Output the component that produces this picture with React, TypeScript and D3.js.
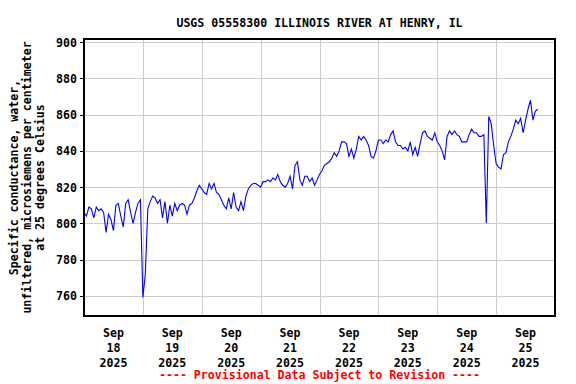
import * as d3 from 'd3';

const title = 'USGS 05558300 ILLINOIS RIVER AT HENRY, IL';
const yLabelLines = [
  'Specific conductance, water,',
  'unfiltered, microsiemens per centimeter',
  'at 25 degrees Celsius',
];
const footer = '---- Provisional Data Subject to Revision ----';
const yTicks = [760, 780, 800, 820, 840, 860, 880, 900];
const dayLabels = ['18', '19', '20', '21', '22', '23', '24', '25'];

// hourly readings, starting Sep 18 00:00
const sep18 = [806, 804, 809, 808, 803, 809, 807, 808, 806, 795, 805, 802, 796, 810, 811, 804, 798, 811, 813, 806, 800, 806, 811, 813];
const sep19 = [759, 772, 808, 812, 815, 814, 811, 813, 803, 812, 800, 810, 804, 811, 807, 810, 811, 810, 805, 810, 811, 814, 818, 821];
const sep20 = [819, 817, 816, 822, 819, 822, 817, 816, 813, 810, 808, 814, 808, 817, 809, 807, 812, 807, 815, 819, 821, 822, 822, 821];
const sep21 = [820, 823, 823, 824, 823, 825, 824, 827, 823, 821, 820, 822, 826, 819, 832, 834, 824, 821, 826, 826, 823, 825, 821, 824];
const sep22 = [827, 829, 832, 833, 834, 836, 839, 837, 840, 845, 845, 844, 837, 841, 836, 841, 848, 846, 848, 846, 843, 837, 836, 840];
const sep23 = [846, 846, 844, 846, 845, 849, 851, 845, 843, 843, 841, 842, 840, 845, 838, 842, 837, 844, 850, 851, 848, 847, 846, 850];
const sep24 = [845, 843, 840, 835, 848, 851, 849, 851, 849, 848, 845, 845, 845, 849, 852, 850, 850, 848, 848, 849, 800, 859, 855, 843];
const sep25 = [833, 831, 830, 838, 839, 845, 848, 852, 857, 855, 858, 850, 857, 863, 868, 857, 862, 863];

const startTime = new Date(2025, 8, 18);
const endTime = new Date(2025, 8, 26);

const font = '"DejaVu Sans Mono", monospace';

export default function App() {
  const width = 576;
  const height = 384;
  const margin = { top: 39, right: 21, bottom: 68, left: 84 };

  const x = d3
    .scaleTime()
    .domain([startTime, endTime])
    .range([margin.left, width - margin.right]);
  const y = d3
    .scaleLinear()
    .domain([748.8, 901.8])
    .range([height - margin.bottom, margin.top]);

  const values = [...sep18, ...sep19, ...sep20, ...sep21, ...sep22, ...sep23, ...sep24, ...sep25];
  const data = values.map((v, i) => ({ t: d3.timeHour.offset(startTime, i), v }));

  const line = d3
    .line<{ t: Date; v: number }>()
    .x((d) => x(d.t))
    .y((d) => y(d.v));

  const days = d3.timeDay.range(startTime, endTime);
  const x0 = margin.left;
  const x1 = width - margin.right;
  const y0 = margin.top;
  const y1 = height - margin.bottom;
  const midY = (y0 + y1) / 2;
  const midX = (x0 + x1) / 2;
  const crisp = (v: number) => Math.round(v) + 0.5;

  return (
    <div style={{ position: 'fixed', left: 0, top: 0 }}>
      <svg width={width} height={height} style={{ display: 'block', background: '#fff' }}>
        <text
          x={midX}
          y={26.5}
          textAnchor="middle"
          fontFamily={font}
          fontWeight="bold"
          fontSize={11.6}
        >
          {title}
        </text>

        {/* grid */}
        {yTicks.map((t) => (
          <line key={'gy' + t} x1={x0} x2={x1} y1={crisp(y(t))} y2={crisp(y(t))} stroke="#cccccc" strokeWidth={1} />
        ))}
        {days.slice(1).map((d) => (
          <line key={'gx' + +d} x1={crisp(x(d))} x2={crisp(x(d))} y1={y0} y2={y1} stroke="#cccccc" strokeWidth={1} />
        ))}

        <path d={line(data) || ''} fill="none" stroke="#0000ff" strokeWidth={1.1} />

        <rect
          x={x0}
          y={y0}
          width={x1 - x0}
          height={y1 - y0}
          fill="none"
          stroke="#000"
          strokeWidth={2}
          shapeRendering="crispEdges"
        />

        {/* y ticks */}
        {yTicks.map((t) => (
          <g key={'ty' + t}>
            <line x1={x0 - 4} x2={x0} y1={crisp(y(t))} y2={crisp(y(t))} stroke="#000" />
            <text
              x={77}
              y={y(t) + 4.5}
              textAnchor="end"
              fontFamily={font}
              fontWeight="bold"
              fontSize={11.6}
            >
              {t}
            </text>
          </g>
        ))}

        {/* x tick labels at noon */}
        {days.map((d, i) => {
          const cx = x(d3.timeHour.offset(d, 12));
          return (
            <text key={'tx' + i} textAnchor="middle" fontFamily={font} fontWeight="bold" fontSize={11.6}>
              <tspan x={cx} y={337}>Sep</tspan>
              <tspan x={cx} y={352}>{dayLabels[i]}</tspan>
              <tspan x={cx} y={366.5}>2025</tspan>
            </text>
          );
        })}

        {/* y axis label */}
        <text
          transform={`translate(0,${midY}) rotate(-90)`}
          textAnchor="middle"
          fontFamily={font}
          fontWeight="bold"
          fontSize={11.6}
        >
          {yLabelLines.map((l, i) => (
            <tspan key={i} x={0} y={18 + i * 13}>
              {l}
            </tspan>
          ))}
        </text>

        <text
          x={midX}
          y={379}
          textAnchor="middle"
          fontFamily={font}
          fontWeight="bold"
          fontSize={11.6}
          fill="#ff0000"
        >
          {footer}
        </text>
      </svg>
    </div>
  );
}
